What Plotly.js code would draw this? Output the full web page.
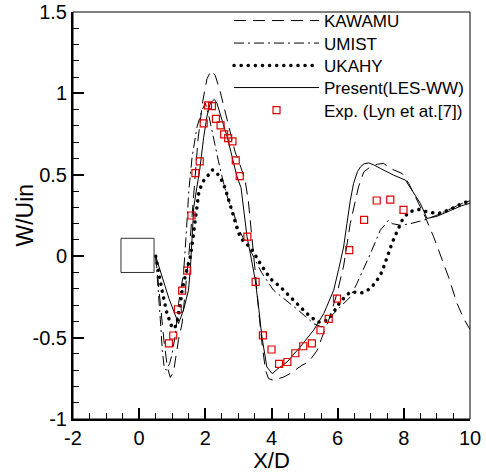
<!DOCTYPE html>
<html><head><meta charset="utf-8">
<script src="https://cdn.plot.ly/plotly-3.0.1.min.js"></script>
<style>html,body{margin:0;padding:0;background:#fff;}#chart{width:486px;height:473px;}</style>
</head><body><div id="chart"></div><script>
// KAWAMU (dashed)
const kawamuX = [0.5,0.62,0.75,0.85,0.94,1.04,1.12,1.19,1.30,1.42,1.52,1.60,1.68,1.78,1.92,2.05,2.18,2.30,2.45,2.60,2.75,2.90,3.05,3.20,3.30,3.42,3.52,3.62,3.72,3.82,3.91,4.06,4.37,4.57,4.92,5.12,5.38,5.53,5.73,5.98,6.18,6.38,6.63,6.79,6.99,7.20,7.39,7.59,7.95,8.15,8.40,8.65,8.90,9.15,9.35,9.61,9.81,10.0];
const kawamuY = [0,-0.25,-0.52,-0.68,-0.745,-0.71,-0.61,-0.512,-0.41,-0.18,0.05,0.25,0.48,0.72,0.95,1.09,1.14,1.11,1.01,0.89,0.76,0.64,0.56,0.47,0.34,0.10,-0.12,-0.35,-0.55,-0.70,-0.752,-0.762,-0.742,-0.72,-0.67,-0.65,-0.578,-0.496,-0.393,-0.229,-0.06,0.20,0.426,0.518,0.549,0.565,0.57,0.539,0.508,0.447,0.344,0.24,0.119,-0.025,-0.127,-0.291,-0.383,-0.45];
// UMIST (dash-dot)
const umistX = [0.5,0.58,0.64,0.70,0.76,0.82,0.92,0.99,1.09,1.19,1.34,1.42,1.50,1.60,1.75,1.90,2.00,2.12,2.25,2.40,2.55,2.70,2.86,3.00,3.20,3.41,3.70,4.06,4.37,4.80,5.27,5.53,5.78,6.08,6.38,6.58,6.80,6.99,7.29,7.54,7.65,7.90,8.20,8.60,9.00,9.41,9.76,10.0];
const umistY = [0,-0.2,-0.39,-0.58,-0.69,-0.70,-0.66,-0.604,-0.49,-0.29,-0.11,0.13,0.40,0.61,0.795,0.897,0.94,0.85,0.72,0.58,0.45,0.34,0.26,0.17,0.09,0.016,-0.10,-0.209,-0.26,-0.33,-0.414,-0.435,-0.373,-0.312,-0.25,-0.168,-0.07,0.016,0.16,0.221,0.20,0.19,0.20,0.221,0.252,0.293,0.324,0.34];
// UKAHY (dotted)
const ukahyX = [0.5,0.64,0.69,0.84,0.99,1.07,1.15,1.22,1.30,1.42,1.55,1.62,1.70,1.80,1.90,2.00,2.10,2.20,2.25,2.35,2.45,2.60,2.70,2.86,2.96,3.06,3.20,3.36,3.66,3.96,4.27,4.67,5.07,5.38,5.58,5.78,6.08,6.38,6.74,6.99,7.19,7.34,7.49,7.64,7.79,7.95,8.15,8.45,8.70,9.05,9.35,9.76,10.0];
const ukahyY = [0,-0.16,-0.209,-0.352,-0.434,-0.445,-0.40,-0.33,-0.205,-0.10,0.0,0.10,0.242,0.39,0.447,0.48,0.50,0.53,0.529,0.51,0.488,0.416,0.355,0.242,0.17,0.115,0.08,0.057,-0.045,-0.137,-0.189,-0.27,-0.352,-0.404,-0.404,-0.373,-0.28,-0.219,-0.225,-0.199,-0.148,-0.096,-0.004,0.078,0.149,0.221,0.272,0.287,0.272,0.262,0.283,0.324,0.34];
// Present (LES-WW) (solid)
const presentX = [0.5,0.7,0.9,1.05,1.19,1.34,1.49,1.55,1.60,1.65,1.75,1.83,1.95,2.05,2.15,2.27,2.35,2.50,2.66,2.81,2.96,3.08,3.18,3.26,3.36,3.51,3.62,3.71,3.86,4.02,4.20,4.47,4.87,5.27,5.58,5.88,6.03,6.18,6.28,6.38,6.48,6.60,6.69,6.80,6.94,7.10,7.29,7.69,8.05,8.25,8.50,8.70,9.00,9.40,9.75,10.0];
const presentY = [0,-0.13,-0.26,-0.34,-0.414,-0.33,-0.21,-0.07,0.10,0.30,0.43,0.53,0.73,0.86,0.94,0.963,0.94,0.846,0.733,0.61,0.487,0.42,0.25,0.12,0.016,-0.148,-0.33,-0.496,-0.68,-0.721,-0.69,-0.65,-0.557,-0.455,-0.352,-0.209,-0.08,0.057,0.20,0.34,0.447,0.52,0.549,0.568,0.573,0.56,0.539,0.498,0.467,0.406,0.324,0.232,0.245,0.28,0.31,0.325];
// Exp. (Lyn et al.)
const expX = [0.90,1.03,1.17,1.30,1.45,1.58,1.70,1.83,1.95,2.08,2.20,2.32,2.46,2.57,2.69,2.82,2.92,3.04,3.27,3.52,3.74,4.00,4.23,4.48,4.72,4.96,5.22,5.48,5.73,5.98,6.35,6.80,7.18,7.59,7.99];
const expY = [-0.535,-0.487,-0.326,-0.211,-0.088,0.250,0.510,0.582,0.816,0.926,0.922,0.844,0.803,0.748,0.725,0.705,0.588,0.492,0.120,-0.158,-0.486,-0.573,-0.662,-0.650,-0.596,-0.553,-0.535,-0.455,-0.385,-0.260,0.037,0.223,0.342,0.348,0.285];

const seriesNames = ['KAWAMU','UMIST','UKAHY','Present(LES-WW)','Exp. (Lyn et at.[7])'];
const xTickVals = [-2,0,2,4,6,8,10];
const xTickText = ['-2','0','2','4','6','8','10'];
const yTickVals = [-1,-0.5,0,0.5,1,1.5];
const yTickText = ['-1','-0.5','0','0.5','1','1.5'];
const cylX = [-0.55,0.45];
const cylY = [-0.10,0.11];

const FONT = 'Liberation Sans, Arial, sans-serif';
const legendIds = ['legend','legend2','legend3','legend4','legend5'];
const legendTops = [1.0221,0.9668,0.9115,0.8575,0.8022];

const traces = [
  {x:kawamuX,y:kawamuY,mode:'lines',name:seriesNames[0],legend:legendIds[0],line:{color:'#000',width:1,dash:'12px,7px'}},
  {x:umistX,y:umistY,mode:'lines',name:seriesNames[1],legend:legendIds[1],line:{color:'#000',width:1,dash:'10px,4px,2px,4px'}},
  {x:ukahyX,y:ukahyY,mode:'lines',name:seriesNames[2],legend:legendIds[2],line:{color:'#000',width:3.5,dash:'0.1px,7px'}},
  {x:presentX,y:presentY,mode:'lines',name:seriesNames[3],legend:legendIds[3],line:{color:'#000',width:1}},
  {x:expX,y:expY,mode:'markers',name:seriesNames[4],legend:legendIds[4],marker:{symbol:'square-open',size:7,color:'#dd0000',line:{width:1.2,color:'#dd0000'}}}
];

const axisCommon = {
  showline:true, linewidth:2, linecolor:'#000', mirror:false,
  ticks:'inside', ticklen:11, tickwidth:2, tickcolor:'#000',
  showgrid:false, zeroline:false, tickmode:'array', automargin:false,
  tickfont:{family:FONT,size:20,color:'#000'}
};
const layout = {
  width:486, height:473,
  margin:{l:73,r:16,t:12,b:54,autoexpand:false},
  paper_bgcolor:'#fff', plot_bgcolor:'#fff',
  showlegend:true,
  xaxis:Object.assign({},axisCommon,{range:[-2,10],tickvals:xTickVals,ticktext:xTickText,
     minor:{tickmode:'linear',tick0:-2,dtick:0.5,ticks:'inside',ticklen:6,tickwidth:1,tickcolor:'#000'},
     title:{text:'X/D',font:{family:FONT,size:22,color:'#000'},standoff:8}}),
  yaxis:Object.assign({},axisCommon,{range:[-1,1.5],tickvals:yTickVals,ticktext:yTickText,
     minor:{tickmode:'linear',tick0:-1,dtick:0.1,ticks:'inside',ticklen:6,tickwidth:1,tickcolor:'#000'}}),
  annotations:[
    {text:'W/Uin',xref:'paper',yref:'paper',x:-0.1234,y:0.5,xanchor:'center',yanchor:'middle',
     textangle:-90,showarrow:false,font:{family:FONT,size:23,color:'#000'}}
  ],
  shapes:[
    {type:'rect',xref:'paper',yref:'paper',x0:0,x1:1,y0:0,y1:1,line:{color:'#000',width:1}},
    {type:'rect',xref:'x',yref:'y',x0:cylX[0],x1:cylX[1],y0:cylY[0],y1:cylY[1],line:{color:'#333',width:1}}
  ]
};
legendIds.forEach(function(id,i){
  layout[id] = {x:0.393,y:legendTops[i],xanchor:'left',yanchor:'top',bgcolor:'rgba(0,0,0,0)',
    font:{family:FONT,size:17,color:'#000'},itemwidth:85};
});
Plotly.newPlot('chart',traces,layout,{displayModeBar:false,staticPlot:true}).then(function(gd){
  gd.querySelectorAll('.scatterlayer .trace:nth-child(3) path.js-line').forEach(function(p){p.style.strokeLinecap='round';});
  gd.querySelectorAll('.legend3 path.js-line, g.legend3 path.js-line').forEach(function(p){p.style.strokeLinecap='round';});
});
</script></body></html>
